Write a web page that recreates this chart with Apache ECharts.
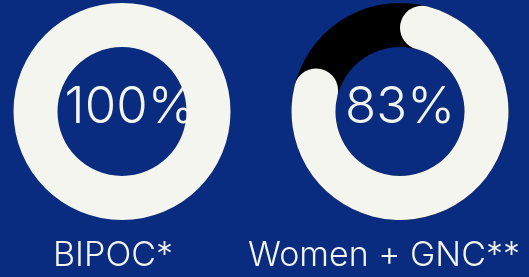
<!DOCTYPE html>
<html>
<head>
<meta charset="utf-8">
<script src="https://cdn.jsdelivr.net/npm/echarts@6/dist/echarts.min.js"></script>
<style>
html, body { margin: 0; padding: 0; background: #092b80; }
#chart { width: 529px; height: 277px; }
</style>
</head>
<body>
<div id="chart"></div>
<script>
// share of each group
const categories = ['BIPOC*', 'Women + GNC**']
const values = [100, 83]

const centersX = [122, 400]
const ringColor = '#f4f5ee'
const trackColor = '#000000'
const textColor = '#f4f5ee'

let chart = echarts.init(document.getElementById('chart'))

let series = []
let texts = []
categories.forEach((name, i) => {
  let center = [centersX[i], 111.5]
  // dark track behind the ring
  if (values[i] < 100) {
    series.push({
      type: 'pie',
      silent: true,
      z: 5,
      center: center,
      radius: [64.5, 108.5],
      label: { show: false },
      labelLine: { show: false },
      itemStyle: { color: trackColor },
      data: [{ value: 1, name: 'track' }]
    })
  }
  series.push({
    type: 'pie',
    silent: true,
    z: 6,
    center: center,
    radius: [64.5, 108.5],
    startAngle: 90,
    clockwise: true,
    label: { show: false },
    labelLine: { show: false },
    itemStyle: { borderRadius: values[i] < 100 ? 22 : 0 },
    data: [
      { value: values[i], name: name, itemStyle: { color: ringColor } },
      { value: 100 - values[i], name: 'rest', itemStyle: { color: 'rgba(0,0,0,0)' } }
    ]
  })
  // percent text sits under the ring (the 100% one gets clipped by it)
  texts.push({
    type: 'text',
    z: 0,
    x: i === 0 ? 130 : 400,
    y: 108,
    style: {
      text: values[i] + '%',
      fill: textColor,
      font: '300 51px Inter',
      textAlign: 'center',
      textVerticalAlign: 'middle'
    }
  })
  texts.push({
    type: 'text',
    z: 0,
    x: i === 0 ? 113 : 384,
    y: 256,
    style: {
      text: name,
      fill: textColor,
      font: '300 34px Inter',
      textAlign: 'center',
      textVerticalAlign: 'middle'
    }
  })
})

chart.setOption({
  backgroundColor: '#092b80',
  animation: false,
  graphic: texts,
  series: series
})
</script>
</body>
</html>
